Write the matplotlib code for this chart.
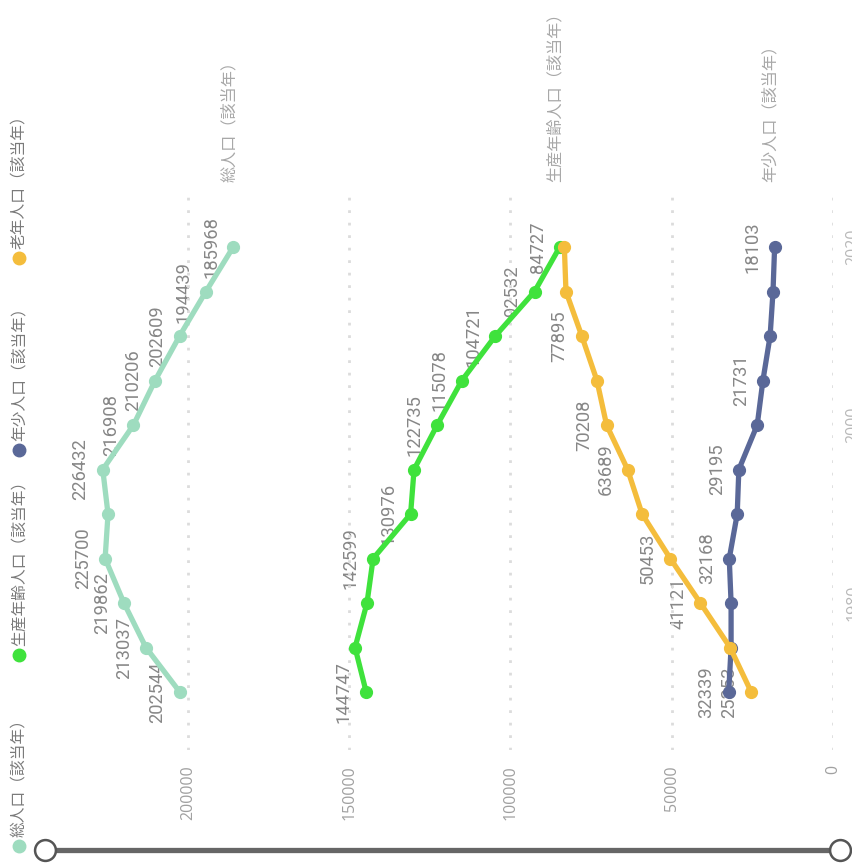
import matplotlib
matplotlib.use('Agg')
import matplotlib.pyplot as plt
from matplotlib.lines import Line2D

plt.rcParams['font.family'] = ['Noto Sans CJK JP', 'DejaVu Sans']

# census years and population series
years = [1970, 1975, 1980, 1985, 1990, 1995, 2000, 2005, 2010, 2015, 2020]
total = [202544, 213037, 219862, 225700, 224800, 226432, 216908, 210206, 202609, 194439, 185968]
working = [144747, 148200, 144500, 142599, 130976, 129900, 122735, 115078, 104721, 92532, 84727]
young = [32339, 31600, 31600, 32168, 29700, 29195, 23500, 21731, 19500, 18600, 18103]
old = [25353, 31900, 41121, 50453, 59200, 63689, 70208, 73200, 77895, 82800, 83300]

# which points carry a value label
total_lbl = [0, 1, 2, 3, 5, 6, 7, 8, 9, 10]
working_lbl = [0, 3, 4, 6, 7, 8, 9, 10]
young_lbl = [0, 3, 5, 7, 10]
old_lbl = [0, 2, 3, 5, 6, 8]

names = ['総人口（該当年）', '生産年齢人口（該当年）', '年少人口（該当年）', '老年人口（該当年）']
colors = ['#9edcbf', '#3fe23c', '#5a6898', '#f4bd3c']

value_ticks = [0, 50000, 100000, 150000, 200000]
year_ticks = [1980, 2000, 2020]

W, H = 852, 865


def fx(px):
    return px / W


def fy(py):
    return 1 - py / H


fig = plt.figure(figsize=(W / 100, H / 100), dpi=100)
ax = fig.add_axes([fx(40), fy(750), fx(833) - fx(40), fy(192) - fy(750)])

# chart is turned on its side: values run right->left, years bottom->top
ax.set_xlim(793 / (645 / 200000), 0)
ax.set_ylim(1970 + 5 * (-1.303), 1970 + 5 * 11.236)

series = [(total, total_lbl), (working, working_lbl), (young, young_lbl), (old, old_lbl)]
for k, (vals, lbl) in enumerate(series):
    ax.plot(vals, years, color=colors[k], lw=3.8, marker='o', ms=8.5,
            solid_capstyle='round', zorder=3 + k)
    for i in lbl:
        ax.annotate(str(vals[i]), (vals[i], years[i]), xytext=(-9.5, 0),
                    textcoords='offset points', rotation=90, ha='right',
                    va='center', fontsize=13.2, color='#878787',
                    family=['Roboto', 'DejaVu Sans'], zorder=1)

# series names at the end of the lines (old-age one is hidden in the original)
for k in range(3):
    vals = series[k][0]
    ax.annotate(names[k], (vals[-1], 1), xycoords=('data', 'axes fraction'),
                xytext=(-3, 7), textcoords='offset points', rotation=90,
                ha='center', va='bottom', fontsize=11.6, color='#a8a8a8',
                annotation_clip=False)

ax.set_xticks(value_ticks)
ax.set_xticklabels([str(v) for v in value_ticks], rotation=90, fontsize=11.5,
                   color='#a0a0a0', family=['Open Sans', 'DejaVu Sans'])
ax.tick_params(axis='x', length=0, pad=11)

# year labels sit mostly outside the right edge, as in the original screenshot
ax.yaxis.tick_right()
ax.set_yticks(year_ticks)
ax.set_yticklabels([str(y) for y in year_ticks], rotation=90, va='center',
                   fontsize=11.5, color='#b8b8b8', family=['Open Sans', 'DejaVu Sans'])
ax.tick_params(axis='y', length=0, pad=9)

ax.grid(axis='x', color='#dcdcdc', lw=2, ls=(0, (1, 3.5)))
ax.grid(axis='y', visible=False)
for s in ax.spines.values():
    s.set_visible(False)

# legend down the left edge
legend_y = [846, 655, 450, 258]
for name, c, y in zip(names, colors, legend_y):
    fig.add_artist(Line2D([fx(19)], [fy(y)], marker='o', ms=9, color=c,
                          ls='none', transform=fig.transFigure))
    fig.text(fx(19), fy(y - 9), name, rotation=90, ha='center', va='bottom',
             fontsize=11.3, color='#7a7a7a')

# range slider along the bottom
fig.add_artist(Line2D([fx(45), fx(840)], [fy(850), fy(850)], lw=3.8,
                      color='#666666', transform=fig.transFigure))
fig.add_artist(Line2D([fx(45), fx(840)], [fy(850), fy(850)], ls='none',
                      marker='o', ms=15, mfc='white', mec='#555555', mew=1.8,
                      transform=fig.transFigure))

fig.savefig('out.png', dpi=100)
